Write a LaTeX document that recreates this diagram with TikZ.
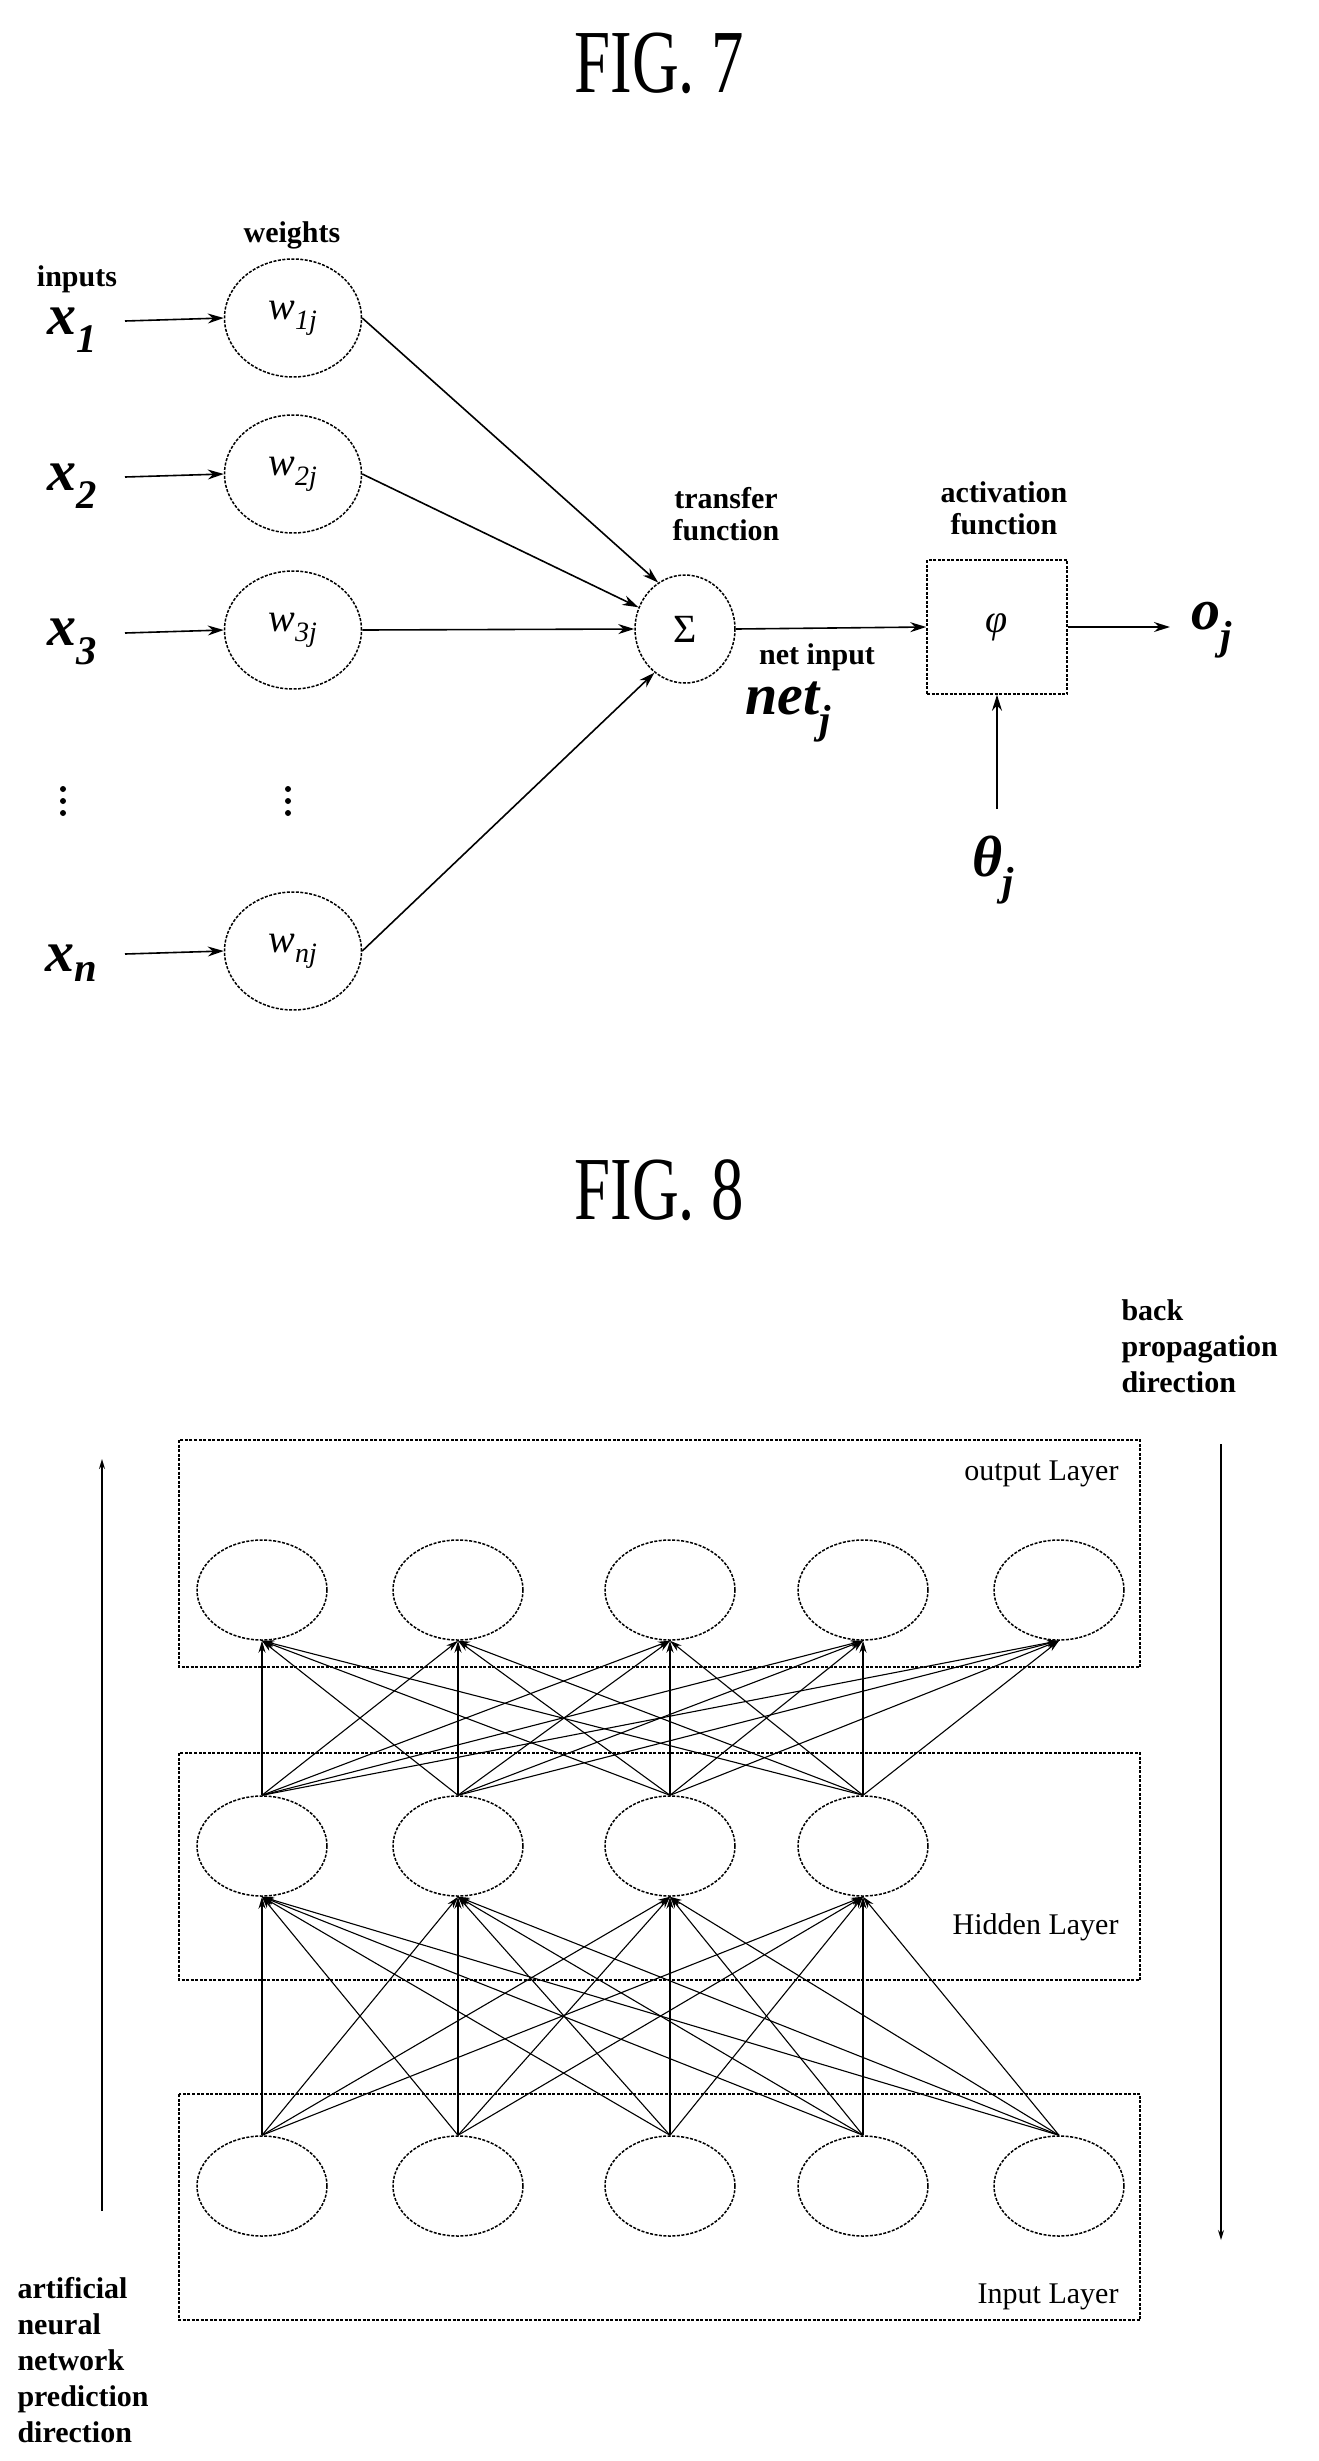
\documentclass[tikz,border=0pt]{standalone}
\usepackage{fontspec}
\setmainfont{Liberation Serif}
\usetikzlibrary{arrows.meta,shapes.geometric}
\begin{document}
\begin{tikzpicture}[x=1pt,y=-1pt,
  dot/.style={draw,line width=1.5pt,dash pattern=on 3pt off 1.5pt},
  wnode/.style={dot,ellipse,minimum width=137pt,minimum height=118pt,inner sep=0pt,font=\fontsize{40}{40}\selectfont\itshape},
  neuron/.style={dot,ellipse,minimum width=130pt,minimum height=100pt,inner sep=0pt},
  layer/.style={dot,line width=1.3pt},
  con/.style={line width=1.6pt,-{Stealth[length=16pt,width=10pt]}},
  ncon/.style={line width=1.1pt,-{Stealth[length=12pt,width=7pt]}},
  lbl/.style={font=\fontsize{30}{32}\selectfont\bfseries,align=center},
  llbl/.style={font=\fontsize{30}{36}\selectfont\bfseries,align=left,anchor=west},
  var/.style={font=\fontsize{58}{58}\selectfont\bfseries\itshape},
  lay/.style={font=\fontsize{30}{30}\selectfont},
  vd/.style={circle,fill,inner sep=0pt,minimum size=6pt}]
\useasboundingbox (0,0) rectangle (1319,2461);
% FIG 7
\node[font=\fontsize{90}{90}\selectfont,xscale=0.72] (f7) at (659,63) {FIG. 7};
\node[lbl] (inp) at (77,279) {inputs};
\node[lbl] (wts) at (292,235) {weights};
\foreach \i/\y/\s in {1/318/1,2/474/2,3/630/3,n/951/n}{
  \node[var] (x\i) at (72,\y+12) {x\textsubscript{\s}};
  \node[wnode] (w\i) at (293,\y) {w\textsubscript{\s j}};
  \coordinate (xs\i) at (125,\y+3);
}
\foreach \i in {1,2,3,n}{\draw[con] (xs\i) -- (w\i.west);}
\foreach \xx/\k in {63/a,288/b}{
  \node[vd] (\k1) at (\xx,789) {};
  \node[vd] (\k2) at (\xx,801) {};
  \node[vd] (\k3) at (\xx,813) {};
}
\node[dot,ellipse,minimum width=100pt,minimum height=108pt,inner sep=0pt,font=\fontsize{40}{40}\selectfont] (sig) at (685,629) {Σ};
\draw[con] (w1.east) -- (sig.120);
\draw[con] (w2.east) -- (sig.155);
\draw[con] (w3.east) -- (sig.west);
\draw[con] (wn.east) -- (sig.235);
\node[lbl] (tf) at (726,514) {transfer\\function};
\node[dot,minimum width=140pt,minimum height=134pt,inner sep=0pt,font=\fontsize{40}{40}\selectfont\itshape] (phi) at (997,627) {φ};
\node[lbl] (af) at (1004,508) {activation\\function};
\draw[con] (sig.east) -- (phi.west);
\node[lbl] (ni) at (817,657) {net input};
\node[var] (net) at (788,712) {net\textsubscript{j}};
\coordinate (oe) at (1170,627);
\draw[con] (phi.east) -- (oe);
\node[var] (oj) at (1212,630) {o\textsubscript{j}};
\node[var] (th) at (993,870) {θ\textsubscript{j}};
\coordinate (ts) at (997,809);
\draw[con] (ts) -- (phi.south);
% FIG 8
\node[font=\fontsize{90}{90}\selectfont,xscale=0.72] (f8) at (659,1190) {FIG. 8};
\draw[layer] (179,1440) rectangle (1140,1667);
\draw[layer] (179,1753) rectangle (1140,1980);
\draw[layer] (179,2094) rectangle (1140,2320);
\node[lay,anchor=east] (lo) at (1122,1474) {output Layer};
\node[lay,anchor=east] (lh) at (1122,1927) {Hidden Layer};
\node[lay,anchor=east] (li) at (1122,2297) {Input Layer};
\foreach \x [count=\i] in {262,458,670,863,1059}{
  \node[neuron] (o\i) at (\x,1590) {};
  \node[neuron] (i\i) at (\x,2186) {};
}
\foreach \x [count=\i] in {262,458,670,863}{
  \node[neuron] (h\i) at (\x,1846) {};
}
\foreach \a in {1,...,4}{\foreach \b in {1,...,5}{\draw[ncon] (h\a.north) -- (o\b.south);}}
\foreach \a in {1,...,5}{\foreach \b in {1,...,4}{\draw[ncon] (i\a.north) -- (h\b.south);}}
\coordinate (la1) at (102,2211); \coordinate (la2) at (102,1459);
\draw[line width=1.3pt,-{Stealth[length=10pt,width=6pt]}] (la1) -- (la2);
\coordinate (ra1) at (1221,1444); \coordinate (ra2) at (1221,2240);
\draw[line width=1.3pt,-{Stealth[length=10pt,width=6pt]}] (ra1) -- (ra2);
\node[llbl] (bp) at (1118,1346) {back\\propagation\\direction};
\node[llbl] (ap) at (14,2360) {artificial\\neural\\network\\prediction\\direction};
\end{tikzpicture}
\end{document}
